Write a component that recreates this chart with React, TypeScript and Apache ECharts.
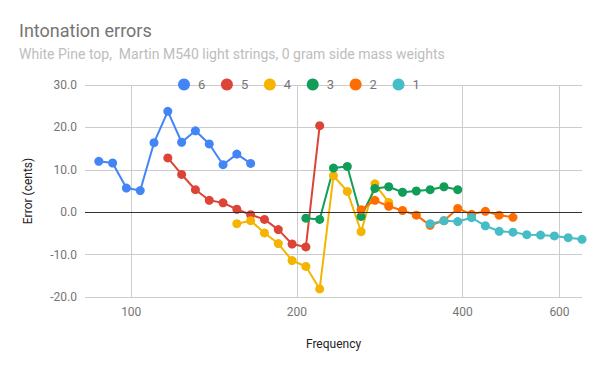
import React, { useEffect, useRef } from "react";
import * as echarts from "echarts";

const titleText = "Intonation errors";
const subtitleText = "White Pine top,  Martin M540 light strings, 0 gram side mass weights";

const stringNames = ["6", "5", "4", "3", "2", "1"];
const stringColors = ["#4285f4", "#db4437", "#f4b400", "#0f9d58", "#ff6d00", "#46bdc6"];

// Frequencies (Hz) of frets 1..12 for each string
const freq6 = [87.31, 92.5, 98.0, 103.83, 110.0, 116.54, 123.47, 130.81, 138.59, 146.83, 155.56, 164.81];
const freq5 = [116.54, 123.47, 130.81, 138.59, 146.83, 155.56, 164.81, 174.61, 185.0, 196.0, 207.65, 220.0];
const freq4 = [155.56, 164.81, 174.61, 185.0, 196.0, 207.65, 220.0, 233.08, 246.94, 261.63, 277.18, 293.66];
const freq3 = [207.65, 220.0, 233.08, 246.94, 261.63, 277.18, 293.66, 311.13, 329.63, 349.23, 369.99, 392.0];
const freq2 = [261.63, 277.18, 293.66, 311.13, 329.63, 349.23, 369.99, 392.0, 415.3, 440.0, 466.16, 493.88];
const freq1 = [349.23, 369.99, 392.0, 415.3, 440.0, 466.16, 493.88, 523.25, 554.37, 587.33, 622.25, 659.26];

// Intonation errors (cents)
const err6 = [12.0, 11.6, 5.7, 5.1, 16.4, 23.8, 16.5, 19.2, 16.1, 11.2, 13.7, 11.5];
const err5 = [12.8, 8.9, 5.3, 2.8, 2.2, 0.7, -0.6, -1.7, -4.1, -7.5, -8.2, 20.4];
const err4 = [-2.7, -2.0, -4.9, -7.4, -11.4, -12.8, -18.1, 8.6, 4.9, -4.6, 6.7, 2.3];
const err3 = [-1.4, -1.7, 10.4, 10.8, -1.0, 5.6, 6.0, 4.7, 5.0, 5.3, 6.0, 5.3];
const err2 = [0.6, 2.8, 1.4, 0.4, -0.7, -3.1, -2.0, 0.9, -0.5, 0.2, -0.7, -1.2];
const err1 = [-2.7, -2.0, -2.2, -1.3, -3.2, -4.5, -4.7, -5.3, -5.4, -5.6, -6.0, -6.4];

const freqMin = 82.41;
const freqMax = 659.26;
const xTickValues = [100, 200, 400, 600];

const allFreqs = [freq6, freq5, freq4, freq3, freq2, freq1];
const allErrs = [err6, err5, err4, err3, err2, err1];

const FONT = "Roboto";

export default function App() {
  const ref = useRef<HTMLDivElement>(null);

  useEffect(() => {
    if (!ref.current) return;
    const chart = echarts.init(ref.current, undefined, { renderer: "svg" });

    const series: any[] = stringNames.map((name, i) => ({
      name,
      type: "line",
      data: allFreqs[i].map((f, j) => [Math.log2(f), allErrs[i][j]]),
      symbol: "circle",
      symbolSize: 9,
      showSymbol: true,
      lineStyle: { width: 2, color: stringColors[i] },
      itemStyle: { color: stringColors[i], borderWidth: 0 },
      emphasis: { disabled: true },
      ...(i === 0
        ? {
            markLine: {
              silent: true,
              symbol: "none",
              label: { show: false },
              lineStyle: { color: "#333333", width: 1, type: "solid" },
              data: [{ yAxis: 0 }],
              animation: false,
            },
          }
        : {}),
    }));

    chart.setOption({
      animation: false,
      textStyle: { fontFamily: FONT },
      title: {
        text: titleText,
        subtext: subtitleText,
        left: 19,
        top: 21,
        padding: 0,
        itemGap: 8,
        textStyle: { fontFamily: FONT, fontSize: 18, fontWeight: "normal", color: "#757575" },
        subtextStyle: { fontFamily: FONT, fontSize: 14, color: "#bdbdbd" },
      },
      legend: {
        data: stringNames,
        left: 178,
        top: 78,
        icon: "circle",
        itemWidth: 12,
        itemHeight: 12,
        itemGap: 15.6,
        padding: 0,
        textStyle: { fontFamily: FONT, fontSize: 13, color: "#757575", padding: [0, 0, 0, 3] },
      },
      grid: {
        left: 85,
        right: 18,
        top: 85,
        bottom: 74,
        containLabel: false,
        outerBoundsMode: "none",
      },
      xAxis: {
        type: "value",
        min: Math.log2(freqMin),
        max: Math.log2(freqMax),
        name: "Frequency",
        nameLocation: "middle",
        nameGap: 41,
        nameTextStyle: { fontFamily: FONT, fontSize: 12, color: "#222222" },
        axisLine: { show: false },
        axisTick: { show: false, customValues: xTickValues.map((v) => Math.log2(v)) },
        axisLabel: {
          customValues: xTickValues.map((v) => Math.log2(v)),
          formatter: (v: number) => String(Math.round(Math.pow(2, v))),
          fontFamily: FONT,
          fontSize: 12,
          color: "#757575",
          margin: 9,
        },
        splitLine: { show: true, lineStyle: { color: "#cccccc", width: 1 } },
      },
      yAxis: {
        type: "value",
        min: -20,
        max: 30,
        interval: 10,
        name: "Error (cents)",
        nameLocation: "middle",
        nameGap: 51,
        nameTextStyle: { fontFamily: FONT, fontSize: 12, color: "#222222" },
        axisLine: { show: false },
        axisTick: { show: false },
        axisLabel: {
          formatter: (v: number) => v.toFixed(1),
          fontFamily: FONT,
          fontSize: 12,
          color: "#757575",
          margin: 8,
        },
        splitLine: { show: true, lineStyle: { color: "#cccccc", width: 1 } },
      },
      tooltip: { show: false },
      series,
    });

    return () => {
      chart.dispose();
    };
  }, []);

  return (
    <div style={{ position: "fixed", left: 0, top: 0, width: 600, height: 371, background: "#ffffff" }}>
      <div ref={ref} style={{ width: 600, height: 371 }} />
    </div>
  );
}
